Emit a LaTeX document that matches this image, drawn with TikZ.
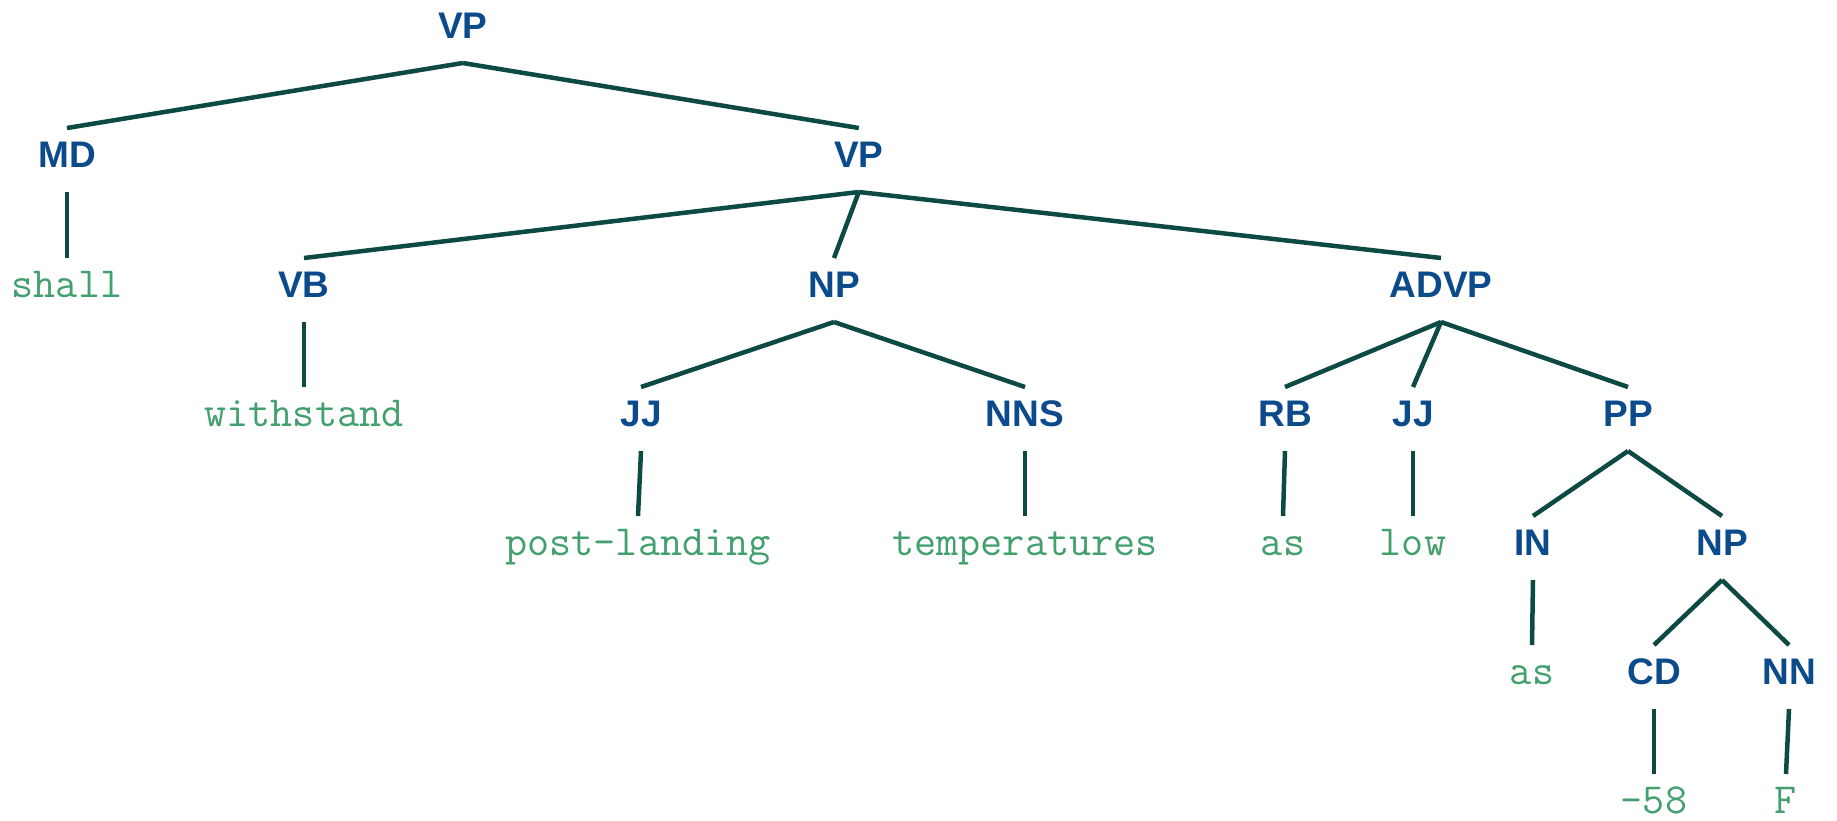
\documentclass[tikz,border=0pt]{standalone}
\usepackage{fontspec}
\setmainfont{Liberation Sans}
\definecolor{labblue}{HTML}{0B4A8B}
\definecolor{wordgreen}{HTML}{42A06E}
\definecolor{edgecol}{HTML}{0D4A44}
\tikzset{
  cat/.style={font=\fontsize{37}{40}\selectfont\bfseries, text=labblue, anchor=base, inner sep=0pt},
  word/.style={font=\fontsize{42.9}{45}\selectfont\ttfamily, text=wordgreen, anchor=base, inner sep=0pt},
  edge/.style={draw=edgecol, line width=4.5pt}
}
\begin{document}
\begin{tikzpicture}[x=1pt,y=-1pt]
\useasboundingbox (0,0) rectangle (1837,820);
% level 0
\node[cat] (vp) at (462.8,38) {VP};
% level 1
\node[cat] (md) at (67,167) {MD};
\node[cat] (vpb) at (858.8,167) {VP};
% level 2
\node[word] (shall) at (67,297) {shall};
\node[cat] (vb) at (304,297) {VB};
\node[cat] (np) at (834,297) {NP};
\node[cat] (advp) at (1441,297) {ADVP};
% level 3
\node[word] (withstand) at (304,426) {withstand};
\node[cat] (jj) at (641,426) {JJ};
\node[cat] (nns) at (1025,426) {NNS};
\node[cat] (rb) at (1285,426) {RB};
\node[cat] (jjb) at (1413,426) {JJ};
\node[cat] (pp) at (1628,426) {PP};
% level 4
\node[word] (postlanding) at (638,555) {post-landing};
\node[word] (temps) at (1025,555) {temperatures};
\node[word] (asa) at (1283,555) {as};
\node[word] (low) at (1413,555) {low};
\node[cat] (in) at (1533,555) {IN};
\node[cat] (npb) at (1722,555) {NP};
% level 5
\node[word] (asb) at (1532,684) {as};
\node[cat] (cd) at (1654,684) {CD};
\node[cat] (nn) at (1789,684) {NN};
% level 6
\node[word] (num) at (1654,813) {-58};
\node[word] (f) at (1786,813) {F};
% edges
\foreach \p/\c in {vp/md, vp/vpb, md/shall, vpb/vb, vpb/np, vpb/advp,
  vb/withstand, np/jj, np/nns, advp/rb, advp/jjb, advp/pp,
  jj/postlanding, nns/temps, rb/asa, jjb/low, pp/in, pp/npb,
  in/asb, npb/cd, npb/nn, cd/num, nn/f}
  \draw[edge] ([yshift=-25pt]\p.base) -- ([yshift=39pt]\c.base);
\end{tikzpicture}
\end{document}
